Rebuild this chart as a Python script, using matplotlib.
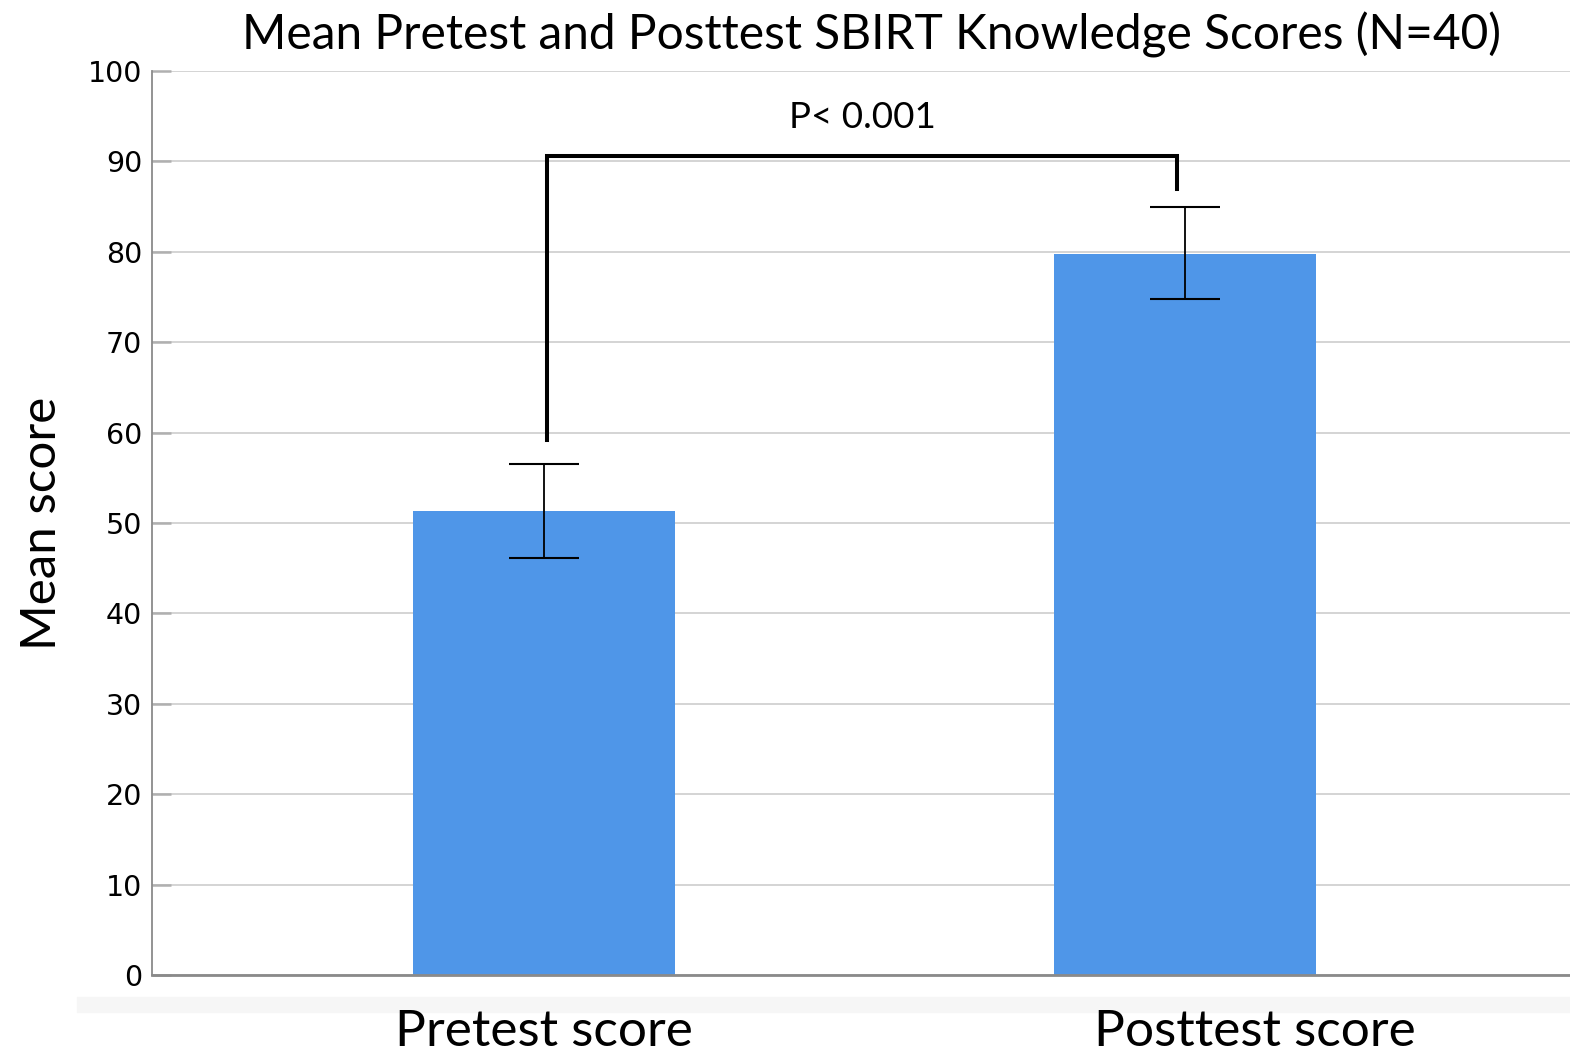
import matplotlib
matplotlib.use("Agg")
import matplotlib.pyplot as plt
from matplotlib.patches import Rectangle

# Data
categories = ["Pretest score", "Posttest score"]
means      = [51.3, 79.8]
ci_low     = [46.1, 74.8]
ci_high    = [56.5, 85.0]
y_ticks    = [0, 10, 20, 30, 40, 50, 60, 70, 80, 90, 100]

# significance bracket
bracket_y     = 90.6
bracket_left  = 59.2
bracket_right = 86.9
p_label       = "P< 0.001"

BAR_COLOR = "#4f96e8"
TEXT_FONT = ["Lato", "DejaVu Sans"]

fig = plt.figure(figsize=(15.70, 10.59), dpi=100)
ax = fig.add_axes([0.0968, 0.0793, 0.9032, 0.8537])

x = list(range(len(categories)))
yerr = [[m - lo for m, lo in zip(means, ci_low)],
        [hi - m for m, hi in zip(means, ci_high)]]

ax.bar(x, means, width=0.408, color=BAR_COLOR, zorder=2)
ax.errorbar(x, means, yerr=yerr, fmt="none", ecolor="black",
            elinewidth=1.3, capsize=25.5, capthick=1.5, zorder=3)

# bracket
xl, xr = x[0] + 0.004, x[1] - 0.012
ax.plot([xl, xl, xr, xr], [bracket_left, bracket_y, bracket_y, bracket_right],
        color="black", lw=2.9, solid_joinstyle="miter", zorder=4)
ax.text(0.496, 94.8, p_label, ha="center", va="center", fontsize=26.5,
        family=TEXT_FONT)

ax.set_xlim(-0.612, 1.601)
ax.set_ylim(0, 100)
ax.set_yticks(y_ticks)
ax.set_yticklabels([str(t) for t in y_ticks], fontsize=20.5, family="DejaVu Sans")
ax.tick_params(axis="y", direction="in", length=14, width=1.8, color="#b0b0b0",
               pad=7)
ax.set_xticks([])
ax.yaxis.grid(True, color="#d4d4d4", lw=1.4, zorder=0)
ax.set_axisbelow(True)

for s in ["top", "right"]:
    ax.spines[s].set_visible(False)
ax.spines["left"].set_color("#8a8a8a")
ax.spines["left"].set_linewidth(1.3)
ax.spines["bottom"].set_color("#8a8a8a")
ax.spines["bottom"].set_linewidth(2.0)

# category labels (posttest one sits a bit right of its bar)
label_x = [x[0], x[1] + 0.109]
for lx, lab in zip(label_x, categories):
    ax.text(lx, -0.0785, lab, transform=ax.get_xaxis_transform(), ha="center",
            va="baseline", fontsize=37, family=TEXT_FONT)

# faint band below the plot
fig.patches.append(Rectangle((77 / 1570, 1 - 1012 / 1059), 1, 15 / 1059,
                             transform=fig.transFigure, color="#f6f6f6",
                             zorder=-1))

ax.set_ylabel("Mean score", fontsize=35.5, family=TEXT_FONT, labelpad=17)
fig.text(0.555, 0.967, "Mean Pretest and Posttest SBIRT Knowledge Scores (N=40)",
         ha="center", va="center", fontsize=34.5, family=TEXT_FONT)

fig.savefig("out.png", dpi=100)
